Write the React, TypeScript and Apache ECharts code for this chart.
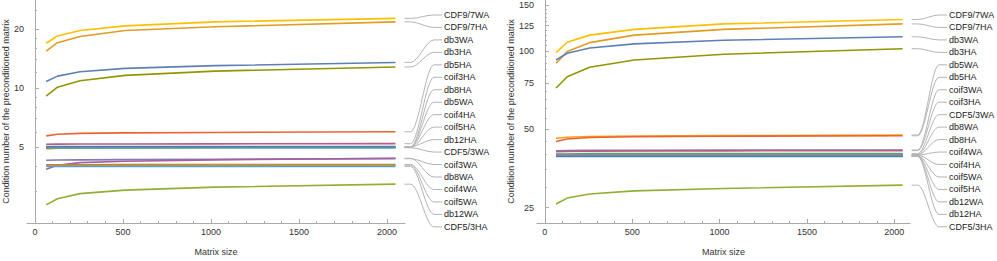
import React, { useEffect, useRef } from 'react';
import * as echarts from 'echarts';

const matrixSizes = [64, 128, 256, 512, 1024, 2048];

const seriesNames = [
  'CDF9/7WA', 'CDF9/7HA', 'db3WA', 'db3HA', 'db5WA', 'db5HA', 'coif3WA', 'coif3HA', 'CDF5/3WA',
  'db8WA', 'db8HA', 'coif4WA', 'coif4HA', 'coif5WA', 'coif5HA', 'db12WA', 'db12HA', 'CDF5/3HA',
];

const seriesColors = [
  '#FFBF00', '#E19C24', '#5E81B5', '#929600', '#F89F13', '#EB6235', '#8778B3', '#BC5B80', '#47B66D',
  '#A5609D', '#5E81B5', '#C56E1A', '#6685D9', '#D39A2A', '#5D9EC7', '#5D9EC7', '#4F7FA8', '#8FB032',
];

// Left panel values (same order as seriesNames)
const leftValues: number[][] = [
  [16.9, 18.4, 19.6, 20.7, 21.7, 22.6],
  [15.4, 17.0, 18.3, 19.6, 20.5, 21.7],
  [10.8, 11.5, 12.1, 12.6, 13.0, 13.5],
  [9.1, 10.1, 10.9, 11.6, 12.2, 12.8],
  [4.9, 4.95, 4.98, 5.0, 5.0, 5.01],
  [5.72, 5.83, 5.89, 5.92, 5.95, 6.0],
  [4.3, 4.31, 4.32, 4.33, 4.35, 4.38],
  [5.18, 5.19, 5.2, 5.2, 5.21, 5.22],
  [4.96, 4.97, 4.97, 4.97, 4.98, 4.98],
  [3.87, 4.05, 4.18, 4.25, 4.32, 4.4],
  [5.0, 5.0, 5.0, 5.0, 5.0, 5.0],
  [4.08, 4.08, 4.08, 4.09, 4.09, 4.09],
  [5.02, 5.02, 5.02, 5.02, 5.02, 5.02],
  [4.05, 4.05, 4.05, 4.05, 4.06, 4.06],
  [4.99, 4.99, 4.99, 4.99, 4.99, 4.99],
  [4.0, 4.0, 4.0, 4.0, 4.0, 4.0],
  [5.04, 5.04, 5.04, 5.04, 5.04, 5.04],
  [2.55, 2.74, 2.91, 3.03, 3.14, 3.25],
];

// Right panel values (same order as seriesNames)
const rightValues: number[][] = [
  [98.5, 108, 115, 121, 127, 132],
  [89.7, 99.4, 107.6, 115, 121, 127],
  [92.3, 98, 102.6, 106.4, 109.9, 113.3],
  [72, 79.6, 86.5, 92.3, 97.1, 102],
  [46.2, 46.6, 46.9, 47.1, 47.3, 47.5],
  [44.9, 45.9, 46.5, 46.8, 47.0, 47.2],
  [41.3, 41.4, 41.5, 41.5, 41.6, 41.6],
  [41.0, 41.1, 41.2, 41.3, 41.3, 41.4],
  [40.2, 40.2, 40.3, 40.3, 40.3, 40.3],
  [40.0, 40.0, 40.0, 40.0, 40.0, 40.0],
  [39.9, 39.9, 39.9, 39.9, 39.9, 39.9],
  [39.8, 39.8, 39.8, 39.8, 39.8, 39.8],
  [39.7, 39.7, 39.7, 39.7, 39.7, 39.7],
  [39.6, 39.6, 39.6, 39.6, 39.6, 39.6],
  [39.5, 39.5, 39.5, 39.5, 39.5, 39.5],
  [39.4, 39.4, 39.4, 39.4, 39.4, 39.4],
  [39.3, 39.3, 39.3, 39.3, 39.3, 39.3],
  [25.8, 27.2, 28.2, 29.0, 29.6, 30.5],
];

const leftLabelOrder = [
  'CDF9/7WA', 'CDF9/7HA', 'db3WA', 'db3HA', 'db5HA', 'coif3HA', 'db8HA', 'db5WA', 'coif4HA',
  'coif5HA', 'db12HA', 'CDF5/3WA', 'coif3WA', 'db8WA', 'coif4WA', 'coif5WA', 'db12WA', 'CDF5/3HA',
];
const rightLabelOrder = [
  'CDF9/7WA', 'CDF9/7HA', 'db3WA', 'db3HA', 'db5WA', 'db5HA', 'coif3WA', 'coif3HA', 'CDF5/3WA',
  'db8WA', 'db8HA', 'coif4WA', 'coif4HA', 'coif5WA', 'coif5HA', 'db12WA', 'db12HA', 'CDF5/3HA',
];

const leftMajorTicks = [5, 10, 20];
const leftMinorTicks = [3, 4, 6, 7, 8, 9, 12, 14, 16, 18, 25];
const rightMajorTicks = [25, 50, 75, 100, 125, 150];
const rightMinorTicks = [30, 35, 40, 45, 55, 60, 65, 70, 80, 85, 90, 95, 105, 110, 115, 120, 130, 135, 140, 145];
const xMajorTicks = [0, 500, 1000, 1500, 2000];
const xMinorTicks = [100, 200, 300, 400, 600, 700, 800, 900, 1100, 1200, 1300, 1400, 1600, 1700, 1800, 1900];

const yTitle = 'Condition number of the preconditioned matrix';
const xTitle = 'Matrix size';

const FONT = '"Liberation Sans", Arial, sans-serif';
const AXIS_COLOR = '#A9A9A9';
const TEXT_COLOR = '#333';

export default function App() {
  const ref = useRef<HTMLDivElement>(null);

  useEffect(() => {
    if (!ref.current) return;
    document.body.style.margin = '0';
    const chart = echarts.init(ref.current, undefined, { renderer: 'svg' });

    const mkX = (gridIndex: number, min: number, max: number) => [
      {
        type: 'value', gridIndex, min, max, position: 'bottom',
        axisLine: { show: true, lineStyle: { color: AXIS_COLOR, width: 1 } },
        splitLine: { show: false },
        axisTick: { show: true, inside: true, length: 4, customValues: xMajorTicks, lineStyle: { color: AXIS_COLOR } },
        axisLabel: {
          customValues: xMajorTicks, color: TEXT_COLOR, fontSize: 9, fontFamily: FONT, margin: 4,
          formatter: (v: number) => String(v),
        },
        name: xTitle, nameLocation: 'middle', nameGap: 24,
        nameTextStyle: { color: TEXT_COLOR, fontSize: 9, fontFamily: FONT },
      },
      {
        type: 'value', gridIndex, min, max, position: 'bottom',
        axisLine: { show: false }, splitLine: { show: false },
        axisTick: { show: true, inside: true, length: 2, customValues: xMinorTicks, lineStyle: { color: AXIS_COLOR } },
        axisLabel: { show: false },
      },
    ];

    const mkY = (gridIndex: number, min: number, max: number, major: number[], minor: number[]) => [
      {
        type: 'value', gridIndex, min, max, position: 'left',
        axisLine: { show: true, lineStyle: { color: AXIS_COLOR, width: 1 } },
        splitLine: { show: false },
        axisTick: { show: true, inside: true, length: 4, customValues: major.map(Math.log), lineStyle: { color: AXIS_COLOR } },
        axisLabel: {
          customValues: major.map(Math.log), color: TEXT_COLOR, fontSize: 9, fontFamily: FONT, margin: 3,
          formatter: (v: number) => String(Math.round(Math.exp(v))),
        },
        name: yTitle, nameLocation: 'middle', nameRotate: 90, nameGap: 17,
        nameTextStyle: { color: TEXT_COLOR, fontSize: 9, fontFamily: FONT },
      },
      {
        type: 'value', gridIndex, min, max, position: 'left',
        axisLine: { show: false }, splitLine: { show: false },
        axisTick: { show: true, inside: true, length: 2, customValues: minor.map(Math.log), lineStyle: { color: AXIS_COLOR } },
        axisLabel: { show: false },
      },
    ];

    const mkSeries = (values: number[][], xi: number, yi: number) =>
      seriesNames.map((name, k) => ({
        type: 'line', name, xAxisIndex: xi, yAxisIndex: yi,
        data: matrixSizes.map((s, i) => [s, Math.log(values[k][i])]),
        symbol: 'none', showSymbol: false, silent: true,
        lineStyle: { color: seriesColors[k], width: 1.6 },
        itemStyle: { color: seriesColors[k] },
      }));

    chart.setOption({
      animation: false,
      grid: [
        { left: 27, top: 0, width: 378, height: 232 },
        { left: 537, top: 0, width: 373, height: 232 },
      ],
      xAxis: [...mkX(0, -45, 2102), ...mkX(1, -45, 2090)],
      yAxis: [
        ...mkY(0, 0.7245, 3.333, leftMajorTicks, leftMinorTicks),
        ...mkY(1, 3.0828, 5.0557, rightMajorTicks, rightMinorTicks),
      ],
      series: [...mkSeries(leftValues, 0, 0), ...mkSeries(rightValues, 2, 2)],
    });

    const graphics: any[] = [];
    const addLeaders = (values: number[][], order: string[], xi: number, yi: number, labelX: number) => {
      order.forEach((name, idx) => {
        const k = seriesNames.indexOf(name);
        const last = values[k][values[k].length - 1];
        const p = chart.convertToPixel({ xAxisIndex: xi, yAxisIndex: yi } as any, [matrixSizes[matrixSizes.length - 1], Math.log(last)]) as number[];
        const yL = p[1];
        const yT = 15 + 12.46 * idx;
        const x0 = p[0] + 9;
        const x1 = x0 + 6;
        const x3 = labelX - 2;
        const x2 = labelX - 10;
        const dx = x2 - x1;
        const lineStyle = { stroke: '#B4B4B4', lineWidth: 1, fill: null };
        graphics.push({ type: 'line', silent: true, shape: { x1: x0, y1: yL, x2: x1, y2: yL }, style: lineStyle });
        graphics.push({
          type: 'bezierCurve', silent: true,
          shape: { x1: x1, y1: yL, x2: x2, y2: yT, cpx1: x1 + dx * 0.35, cpy1: yL, cpx2: x2 - dx * 0.35, cpy2: yT },
          style: lineStyle,
        });
        graphics.push({ type: 'line', silent: true, shape: { x1: x2, y1: yT, x2: x3, y2: yT }, style: lineStyle });
        graphics.push({
          type: 'text', silent: true, x: labelX, y: yT,
          style: {
            text: name, fill: '#222', font: `9px ${FONT}`, fontSize: 9, fontFamily: FONT,
            align: 'left', verticalAlign: 'middle', textAlign: 'left', textVerticalAlign: 'middle',
          },
        });
      });
    };
    addLeaders(leftValues, leftLabelOrder, 0, 0, 444);
    addLeaders(rightValues, rightLabelOrder, 2, 2, 949);
    chart.setOption({ graphic: graphics });

    return () => chart.dispose();
  }, []);

  return <div ref={ref} style={{ width: 997, height: 261 }} />;
}
